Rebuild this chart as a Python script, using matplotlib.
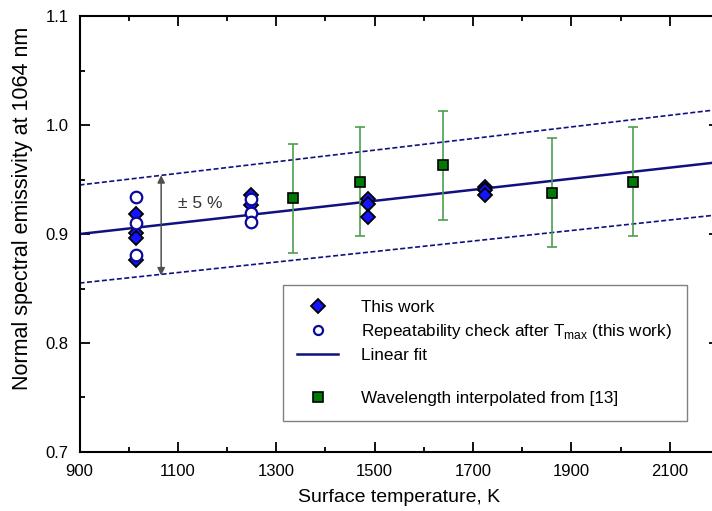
import matplotlib
matplotlib.use("Agg")
import matplotlib.pyplot as plt
from matplotlib.lines import Line2D
from matplotlib.ticker import MultipleLocator, FormatStrFormatter

plt.rcParams['font.family'] = ['Liberation Sans', 'DejaVu Sans']
plt.rcParams['mathtext.fontset'] = 'custom'
plt.rcParams['mathtext.rm'] = 'Liberation Sans'

# Donnees
this_T = [1015, 1015, 1015, 1015, 1249, 1249, 1487, 1487, 1487, 1725, 1725, 1725]
this_eps = [0.918, 0.901, 0.896, 0.876, 0.936, 0.927, 0.932, 0.928, 0.916, 0.943, 0.940, 0.936]

rep_T = [1015, 1015, 1015, 1249, 1249, 1249]
rep_eps = [0.934, 0.910, 0.881, 0.932, 0.919, 0.911]

lit_T = [1334, 1470, 1639, 1860, 2025]
lit_eps = [0.933, 0.948, 0.963, 0.938, 0.948]
lit_err = [0.05, 0.05, 0.05, 0.05, 0.05]

# droite de regression (extremites) et bande +/- 5 %
fit_T = [900, 2200]
fit_eps = [0.900, 0.966]
band = 0.05

arrow_T = 1066
arrow_eps = [0.862, 0.954]

x_ticks = [900, 1100, 1300, 1500, 1700, 1900, 2100]
y_ticks = [0.7, 0.8, 0.9, 1.0, 1.1]

navy = "#10107f"

fig = plt.figure(figsize=(7.12, 5.11), dpi=100)
ax = fig.add_axes([0.1117, 0.1155, 0.898, 0.853])

ax.plot(fit_T, fit_eps, color=navy, lw=1.8, zorder=2)
ax.plot(fit_T, [e * (1 + band) for e in fit_eps], color=navy, lw=1.2,
        linestyle=(0, (3, 1.5)), zorder=2)
ax.plot(fit_T, [e * (1 - band) for e in fit_eps], color=navy, lw=1.2,
        linestyle=(0, (3, 1.5)), zorder=2)

ax.errorbar(lit_T, lit_eps, yerr=lit_err, fmt='none', ecolor="#4e9e4e",
            elinewidth=1.2, capsize=3.3, capthick=1.2, zorder=3)
ax.plot(lit_T, lit_eps, 's', ms=7.8, mfc="#007a00", mec="black", mew=1.2,
        linestyle='none', zorder=4)

ax.plot(this_T, this_eps, 'D', ms=7.3, mfc="#1414ff", mec="black", mew=1.3,
        linestyle='none', zorder=5)
ax.plot(rep_T, rep_eps, 'o', ms=8.3, mfc="white", mec="#0a0a9a", mew=1.6,
        linestyle='none', zorder=6)

ax.annotate('', xy=(arrow_T, arrow_eps[1]), xytext=(arrow_T, arrow_eps[0]),
            arrowprops=dict(arrowstyle='<|-|>', color="#505050", lw=1.1,
                            mutation_scale=11, shrinkA=0, shrinkB=0))
ax.text(1145, 0.928, u"\u00b1 5 %", fontsize=12.5, color="#333333",
        ha='center', va='center')

ax.set_xlim(900, 2200)
ax.set_ylim(0.7, 1.1)
ax.set_xticks(x_ticks)
ax.xaxis.set_minor_locator(MultipleLocator(100))
ax.set_yticks(y_ticks)
ax.yaxis.set_minor_locator(MultipleLocator(0.05))
ax.yaxis.set_major_formatter(FormatStrFormatter('%.1f'))
ax.tick_params(which='both', direction='in', top=True, right=True,
               width=1.3, labelsize=12, colors='black')
ax.tick_params(which='major', length=7)
ax.tick_params(which='minor', length=3.5)
ax.tick_params(axis='x', pad=9)
ax.tick_params(axis='y', pad=8)
for sp in ax.spines.values():
    sp.set_linewidth(1.5)

ax.set_xlabel("Surface temperature, K", fontsize=14, labelpad=7)
ax.set_ylabel("Normal spectral emissivity at 1064 nm", fontsize=15.5)
ax.yaxis.set_label_coords(-0.073, 0.56)

handles = [
    Line2D([], [], marker='D', ms=7.3, mfc="#1414ff", mec="black", mew=1.3, linestyle='none'),
    Line2D([], [], marker='o', ms=6.5, mfc="white", mec="#0a0a9a", mew=1.6, linestyle='none'),
    Line2D([], [], color=navy, lw=1.8),
    Line2D([], [], linestyle='none'),
    Line2D([], [], marker='s', ms=7, mfc="#007a00", mec="black", mew=1.2, linestyle='none'),
]
labels = ["This work",
          r"Repeatability check after T$_{\mathregular{max}}$ (this work)",
          "Linear fit",
          " ",
          "Wavelength interpolated from [13]"]
leg = ax.legend(handles, labels, loc='upper left', bbox_to_anchor=(0.318, 0.383),
                fontsize=12.3, frameon=True, fancybox=False, edgecolor="#808080",
                framealpha=1, borderpad=0.85, handlelength=2.4, handletextpad=1.35,
                labelspacing=0.42, borderaxespad=0)
leg.get_frame().set_linewidth(1.0)
leg.get_texts()[3].set_fontsize(8)

fig.savefig("out.png", dpi=100)
